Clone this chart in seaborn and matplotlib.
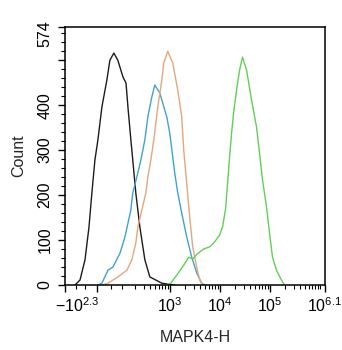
import numpy as np
import pandas as pd
import matplotlib
matplotlib.use("Agg")
import matplotlib.pyplot as plt
import matplotlib.transforms as mtransforms
from matplotlib.ticker import FixedLocator, FixedFormatter
import seaborn as sns

# Histogram traces: MAPK4-H intensity (x) vs event count
black_x = [-108, -76, -50, -32, -20, -8, 3, 16, 33, 44, 60, 78, 105, 124, 137, 159, 175, 203, 247, 313, 395, 689, 1252]
black_y = [0, 11, 56, 129, 205, 278, 323, 396, 456, 500, 516, 500, 463, 449, 396, 323, 278, 205, 129, 56, 18, 4, 0]

blue_x = [3, 16, 37, 56, 89, 117, 159, 175, 213, 259, 313, 360, 433, 498, 628, 867, 995, 1142, 1252, 1437, 1727, 2171, 2734, 3437, 4326, 4963]
blue_y = [0, 4, 33, 40, 71, 107, 167, 205, 240, 278, 323, 374, 418, 445, 427, 374, 338, 285, 249, 205, 160, 107, 62, 27, 4, 0]

orange_x = [16, 37, 78, 130, 167, 203, 224, 272, 328, 360, 414, 476, 572, 689, 755, 908, 1142, 1437, 1727, 1893, 2171, 2492, 2863, 3437, 3948, 4522]
orange_y = [0, 4, 18, 33, 56, 93, 129, 167, 205, 240, 278, 323, 396, 456, 494, 520, 494, 434, 374, 300, 227, 151, 85, 40, 11, 0]

green_x = [791, 1042, 1372, 1893, 2380, 2863, 3598, 4739, 6237, 7497, 9877, 11333, 13006, 14252, 15617, 17122, 18767,
           21539, 24724, 28371, 34097, 42861, 53900, 61880, 71050, 85330, 97930, 112420, 135030, 169750, 194810]
green_y = [0, 4, 22, 44, 62, 58, 70, 80, 85, 93, 111, 130, 170, 227, 285, 338, 383,
           434, 478, 507, 478, 412, 352, 294, 234, 174, 116, 62, 33, 11, 0]

x_ticks = [-200, 0, 1e3, 1e4, 1e5, 10 ** 6.1]
x_ticklabels = [r"$-10^{2.3}$", "", r"$10^{3}$", r"$10^{4}$", r"$10^{5}$", r"$10^{6.1}$"]
y_ticks = [0, 100, 200, 300, 400, 500, 574]
y_ticklabels = ["0", "100", "200", "300", "400", "", "574"]

colors = {"ctrl": "#1c1c1c", "iso": "#3fa3cc", "a": "#e3a77c", "b": "#62cf58"}

frames = []
for name, xs, ys in [("ctrl", black_x, black_y), ("iso", blue_x, blue_y),
                     ("a", orange_x, orange_y), ("b", green_x, green_y)]:
    frames.append(pd.DataFrame({"x": xs, "count": ys, "sample": name}))
df = pd.concat(frames, ignore_index=True)

# Biexponential-style display transform
C = 70.0
K = 0.83


def fwd(x):
    x = np.asarray(x, dtype=float)
    y = np.arcsinh(x / C)
    return np.where(y < 0, K * y, y)


def inv(y):
    y = np.asarray(y, dtype=float)
    return C * np.sinh(np.where(y < 0, y / K, y))


sns.set_style("ticks")
plt.rcParams["font.family"] = ["Liberation Sans", "DejaVu Sans"]
plt.rcParams["mathtext.fontset"] = "custom"
plt.rcParams["mathtext.rm"] = "Liberation Sans"
plt.rcParams["mathtext.it"] = "Liberation Sans"

fig = plt.figure(figsize=(3.42, 3.5), dpi=100)
ax = fig.add_axes([65 / 342, 65 / 350, 260 / 342, 258 / 350])
ax.set_xscale("function", functions=(fwd, inv))

sns.lineplot(data=df, x="x", y="count", hue="sample", palette=colors,
             estimator=None, sort=False, legend=False, linewidth=1.0, ax=ax)

ax.set_xlim(-200, 10 ** 6.1)
ax.set_ylim(0, 574)

minor_x = [-100, -50, 50, 100] + list(range(200, 1000, 100)) + \
    [m * 10 ** e for e in (3, 4, 5) for m in range(2, 10)] + [1e6]
ax.xaxis.set_major_locator(FixedLocator(x_ticks))
ax.xaxis.set_major_formatter(FixedFormatter(x_ticklabels))
ax.xaxis.set_minor_locator(FixedLocator(minor_x))
ax.yaxis.set_major_locator(FixedLocator(y_ticks))
ax.yaxis.set_major_formatter(FixedFormatter(y_ticklabels))
ax.yaxis.set_minor_locator(FixedLocator([v for v in range(20, 574, 20) if v % 100]))

ax.tick_params(axis="both", which="major", direction="out", length=5, width=1,
               labelsize=11.5, color="black", labelcolor="black")
ax.tick_params(axis="both", which="minor", direction="out", length=3, width=0.8, color="black")
ax.tick_params(axis="x", which="major", pad=3)
ax.tick_params(axis="y", which="major", pad=4, labelrotation=90)
for lbl in ax.get_yticklabels():
    lbl.set_va("center")

for side in ["top", "right", "bottom", "left"]:
    ax.spines[side].set_visible(True)
    ax.spines[side].set_color("black")
    ax.spines[side].set_linewidth(1.1)

ax.set_xlabel("MAPK4-H", fontsize=11.5, labelpad=11)
ax.set_ylabel("Count", fontsize=11.5, labelpad=8)

# nudge the end labels inward
first_x = ax.get_xticklabels()[0]
first_x.set_transform(first_x.get_transform() +
                      mtransforms.ScaledTranslation(12 / 100, 0, fig.dpi_scale_trans))
last_y = ax.get_yticklabels()[-1]
last_y.set_transform(last_y.get_transform() +
                     mtransforms.ScaledTranslation(0, -7 / 100, fig.dpi_scale_trans))

fig.savefig("out.png", dpi=100)
